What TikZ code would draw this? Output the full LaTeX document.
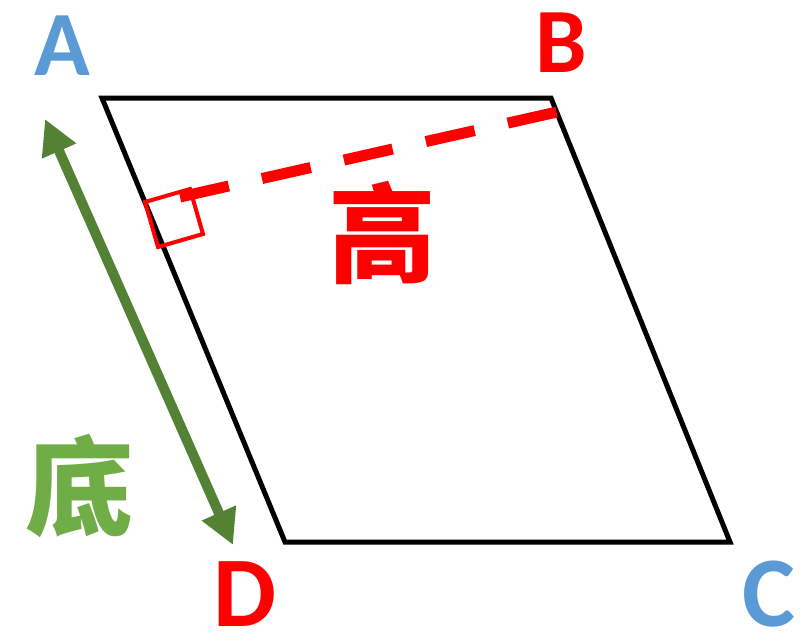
\documentclass[tikz,border=0pt]{standalone}
\usepackage{fontspec}
\setmainfont{Carlito}
\newfontfamily\cjk{Noto Sans CJK SC}
\usetikzlibrary{arrows.meta}

\definecolor{ptblue}{HTML}{5B9BD5}
\definecolor{ptred}{HTML}{FF0000}
\definecolor{ptgreen}{HTML}{548235}
\definecolor{ptlgreen}{HTML}{70AD47}

\begin{document}
\begin{tikzpicture}[x=1pt, y=-1pt, line join=miter,
  vlabel/.style={font=\fontsize{92}{92}\selectfont\bfseries, inner sep=0pt},
  hanzi/.style={font=\fontsize{108}{108}\selectfont\cjk\bfseries, inner sep=0pt}]
\useasboundingbox (0,0) rectangle (800,634);

%-----------------------
% 平行四边形 ABCD
%-----------------------
\coordinate (A) at (102,98);
\coordinate (B) at (551,98);
\coordinate (C) at (730,542);
\coordinate (D) at (285,542);
\draw[line width=5pt] (A)--(B)--(C)--(D)--cycle;

%-----------------------
% 高：从 B 到 AD 的虚线与直角记号
%-----------------------
\coordinate (P1) at (145,202);
\coordinate (P2) at (190,189);
\coordinate (P3) at (203,234);
\coordinate (P4) at (158,247);
\draw[ptred, line width=4pt] (P1)--(P2)--(P3)--(P4)--cycle;

\coordinate (H)  at (180,197);
\coordinate (Bh) at (557,112);
\draw[ptred, line width=11pt, dash pattern=on 50pt off 34pt] (H)--(Bh);

%-----------------------
% 底：AD 旁的双向箭头
%-----------------------
\coordinate (E1) at (45,119);
\coordinate (E2) at (233,545);
\draw[ptgreen, line width=10pt,
  {Triangle[length=35pt,width=35pt]}-{Triangle[length=35pt,width=35pt]}] (E1)--(E2);

%-----------------------
% 标注
%-----------------------
\node[vlabel, text=ptblue] (labA) at (62,46) {A};
\node[vlabel, text=ptred]  (labB) at (561,43) {B};
\node[vlabel, text=ptblue, font=\fontsize{100}{100}\selectfont\bfseries] (labC) at (769,594) {C};
\node[vlabel, text=ptred,  font=\fontsize{100}{100}\selectfont\bfseries] (labD) at (245,594) {D};
\node[hanzi, text=ptred]    (gao) at (382,233) {高};
\node[hanzi, text=ptlgreen] (di)  at (79,486)  {底};

\end{tikzpicture}
\end{document}
